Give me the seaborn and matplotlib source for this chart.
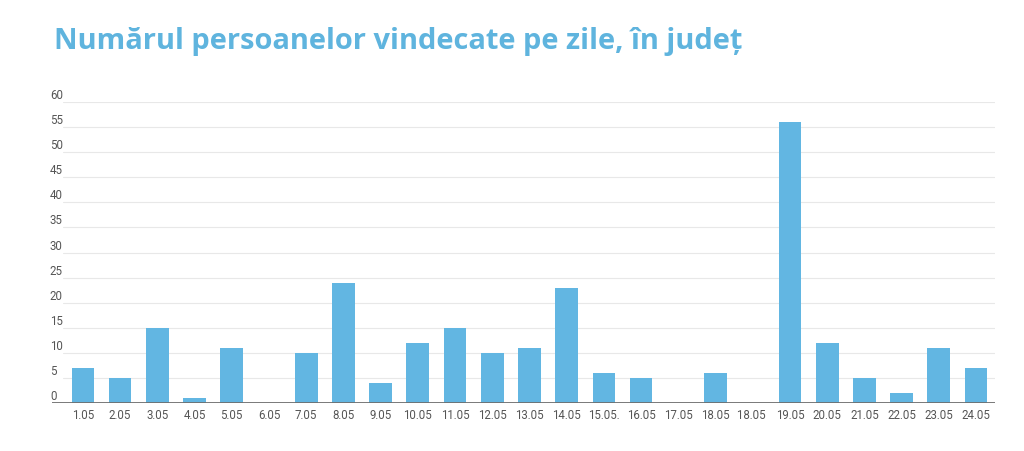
import matplotlib
matplotlib.use("Agg")
import matplotlib.pyplot as plt
import seaborn as sns
import pandas as pd

days = ["1.05", "2.05", "3.05", "4.05", "5.05", "6.05", "7.05", "8.05", "9.05",
        "10.05", "11.05", "12.05", "13.05", "14.05", "15.05.", "16.05", "17.05",
        "18.05", "18.05 ", "19.05", "20.05", "21.05", "22.05", "23.05", "24.05"]
recovered = [7, 5, 15, 1, 11, 0, 10, 24, 4, 12, 15, 10, 11, 23, 6, 5, 0, 6, 0,
             56, 12, 5, 2, 11, 7]
yticks = list(range(0, 61, 5))

title = "Numărul persoanelor vindecate pe zile, în județ"
bar_color = "#62b6e2"
title_color = "#5fb4de"

sns.set_theme(style="white")
plt.rcParams["font.family"] = ["Roboto", "DejaVu Sans"]

df = pd.DataFrame({"day": days, "value": recovered})

fig = plt.figure(figsize=(10.24, 4.51), dpi=100)
ax = fig.add_axes([52 / 1024, 48 / 451, 943 / 1024, 301 / 451])

sns.barplot(data=df, x="day", y="value", color=bar_color, width=0.61,
            saturation=1, ax=ax, order=days, linewidth=0)

ax.set_xlim(-0.83, 24.51)
ax.set_ylim(0, 60)
ax.set_yticks(yticks)
ax.set_yticklabels([str(t) for t in yticks])
ax.set_xlabel("")
ax.set_ylabel("")

for t in yticks[1:]:
    ax.axhline(t, xmin=11 / 943, xmax=1, color="#e8e8e8", lw=0.8, zorder=0)
ax.axhline(0, color="#6e6e6e", lw=1.3, zorder=3)

for s in ax.spines.values():
    s.set_visible(False)

ax.tick_params(axis="both", length=0, colors="#555555", labelsize=8.3)
ax.tick_params(axis="x", pad=4)
ax.tick_params(axis="y", pad=1.5)
for lab in ax.get_yticklabels():
    lab.set_horizontalalignment("left")
    lab.set_verticalalignment("bottom")

fig.text(54 / 1024, 1 - 41 / 451, title, color=title_color, fontsize=20.9,
         fontweight="bold", family=["Open Sans", "DejaVu Sans"], va="center", ha="left")

fig.savefig("out.png", dpi=100, facecolor="white")
